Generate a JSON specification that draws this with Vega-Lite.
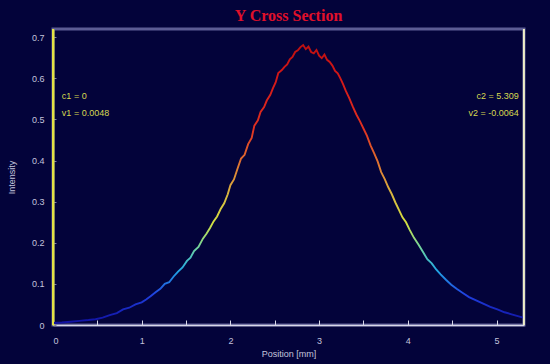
{
  "$schema": "https://vega.github.io/schema/vega-lite/v6.json",
  "autosize": "none",
  "width": 471,
  "height": 296,
  "padding": {"left": 53, "top": 29, "right": 26, "bottom": 39},
  "background": "#03033a",
  "title": {
    "text": "Y Cross Section",
    "font": "Liberation Serif",
    "fontSize": 16,
    "fontWeight": "bold",
    "color": "#e0102a",
    "anchor": "middle",
    "offset": 4
  },
  "config": {
    "view": {"stroke": "#5c5c94", "strokeWidth": 3},
    "axis": {
      "labelFont": "Liberation Sans",
      "labelFontSize": 9,
      "labelColor": "#c4c4dc",
      "titleFont": "Liberation Sans",
      "titleFontSize": 9,
      "titleFontWeight": "normal",
      "titleColor": "#c4c4dc",
      "grid": false
    }
  },
  "datasets": {
    "curve": [
      {"position": 0.00, "intensity": 0.005},
      {"position": 0.10, "intensity": 0.006},
      {"position": 0.20, "intensity": 0.008},
      {"position": 0.30, "intensity": 0.010},
      {"position": 0.40, "intensity": 0.012},
      {"position": 0.48, "intensity": 0.014},
      {"position": 0.56, "intensity": 0.018},
      {"position": 0.64, "intensity": 0.024},
      {"position": 0.72, "intensity": 0.029},
      {"position": 0.79, "intensity": 0.038},
      {"position": 0.86, "intensity": 0.042},
      {"position": 0.93, "intensity": 0.050},
      {"position": 1.00, "intensity": 0.055},
      {"position": 1.05, "intensity": 0.062},
      {"position": 1.10, "intensity": 0.070},
      {"position": 1.16, "intensity": 0.080},
      {"position": 1.21, "intensity": 0.088},
      {"position": 1.26, "intensity": 0.100},
      {"position": 1.31, "intensity": 0.104},
      {"position": 1.36, "intensity": 0.118},
      {"position": 1.41, "intensity": 0.130},
      {"position": 1.46, "intensity": 0.140},
      {"position": 1.51, "intensity": 0.156},
      {"position": 1.55, "intensity": 0.164},
      {"position": 1.59, "intensity": 0.180},
      {"position": 1.64, "intensity": 0.190},
      {"position": 1.69, "intensity": 0.210},
      {"position": 1.73, "intensity": 0.222},
      {"position": 1.77, "intensity": 0.236},
      {"position": 1.81, "intensity": 0.252},
      {"position": 1.85, "intensity": 0.264},
      {"position": 1.89, "intensity": 0.282},
      {"position": 1.93, "intensity": 0.296},
      {"position": 1.97, "intensity": 0.318},
      {"position": 2.00, "intensity": 0.340},
      {"position": 2.04, "intensity": 0.354},
      {"position": 2.08, "intensity": 0.380},
      {"position": 2.12, "intensity": 0.405},
      {"position": 2.16, "intensity": 0.414},
      {"position": 2.20, "intensity": 0.440},
      {"position": 2.24, "intensity": 0.455},
      {"position": 2.27, "intensity": 0.485},
      {"position": 2.31, "intensity": 0.498},
      {"position": 2.34, "intensity": 0.518},
      {"position": 2.38, "intensity": 0.530},
      {"position": 2.41, "intensity": 0.546},
      {"position": 2.45, "intensity": 0.560},
      {"position": 2.48, "intensity": 0.576},
      {"position": 2.51, "intensity": 0.590},
      {"position": 2.54, "intensity": 0.613},
      {"position": 2.58, "intensity": 0.620},
      {"position": 2.61, "intensity": 0.628},
      {"position": 2.64, "intensity": 0.634},
      {"position": 2.67, "intensity": 0.646},
      {"position": 2.70, "intensity": 0.652},
      {"position": 2.73, "intensity": 0.664},
      {"position": 2.76, "intensity": 0.668},
      {"position": 2.79, "intensity": 0.676},
      {"position": 2.82, "intensity": 0.681},
      {"position": 2.85, "intensity": 0.671},
      {"position": 2.88, "intensity": 0.677},
      {"position": 2.91, "intensity": 0.664},
      {"position": 2.94, "intensity": 0.661},
      {"position": 2.97, "intensity": 0.669},
      {"position": 3.00, "intensity": 0.655},
      {"position": 3.03, "intensity": 0.649},
      {"position": 3.06, "intensity": 0.658},
      {"position": 3.09, "intensity": 0.645},
      {"position": 3.12, "intensity": 0.640},
      {"position": 3.15, "intensity": 0.631},
      {"position": 3.18, "intensity": 0.618},
      {"position": 3.21, "intensity": 0.612},
      {"position": 3.24, "intensity": 0.600},
      {"position": 3.27, "intensity": 0.586},
      {"position": 3.30, "intensity": 0.570},
      {"position": 3.34, "intensity": 0.552},
      {"position": 3.38, "intensity": 0.531},
      {"position": 3.42, "intensity": 0.512},
      {"position": 3.46, "intensity": 0.496},
      {"position": 3.50, "intensity": 0.478},
      {"position": 3.54, "intensity": 0.460},
      {"position": 3.58, "intensity": 0.437},
      {"position": 3.62, "intensity": 0.418},
      {"position": 3.66, "intensity": 0.398},
      {"position": 3.70, "intensity": 0.372},
      {"position": 3.74, "intensity": 0.355},
      {"position": 3.78, "intensity": 0.335},
      {"position": 3.82, "intensity": 0.318},
      {"position": 3.86, "intensity": 0.298},
      {"position": 3.90, "intensity": 0.280},
      {"position": 3.94, "intensity": 0.262},
      {"position": 3.98, "intensity": 0.250},
      {"position": 4.02, "intensity": 0.232},
      {"position": 4.07, "intensity": 0.212},
      {"position": 4.12, "intensity": 0.196},
      {"position": 4.17, "intensity": 0.178},
      {"position": 4.22, "intensity": 0.160},
      {"position": 4.27, "intensity": 0.150},
      {"position": 4.32, "intensity": 0.135},
      {"position": 4.37, "intensity": 0.123},
      {"position": 4.43, "intensity": 0.110},
      {"position": 4.49, "intensity": 0.098},
      {"position": 4.55, "intensity": 0.088},
      {"position": 4.62, "intensity": 0.078},
      {"position": 4.69, "intensity": 0.068},
      {"position": 4.77, "intensity": 0.060},
      {"position": 4.85, "intensity": 0.052},
      {"position": 4.93, "intensity": 0.044},
      {"position": 5.01, "intensity": 0.038},
      {"position": 5.09, "intensity": 0.031},
      {"position": 5.17, "intensity": 0.026},
      {"position": 5.25, "intensity": 0.021},
      {"position": 5.30, "intensity": 0.018}
    ],
    "cursors": [
      {"cursor": "c1", "position": 0},
      {"cursor": "c2", "position": 5.309}
    ],
    "notes": [
      {"label": "c1 = 0", "position": 0.1, "intensity": 0.557, "side": "left"},
      {"label": "v1 = 0.0048", "position": 0.1, "intensity": 0.516, "side": "left"},
      {"label": "c2 = 5.309", "position": 5.25, "intensity": 0.557, "side": "right"},
      {"label": "v2 = -0.0064", "position": 5.25, "intensity": 0.516, "side": "right"}
    ]
  },
  "layer": [
    {
      "data": {"name": "curve"},
      "mark": {
        "type": "line",
        "strokeWidth": 1.9,
        "stroke": {
          "gradient": "linear",
          "x1": 0, "y1": 1, "x2": 0, "y2": 0,
          "stops": [
            {"offset": 0, "color": "#1010a0"},
            {"offset": 0.1, "color": "#2040e0"},
            {"offset": 0.19, "color": "#22a8e4"},
            {"offset": 0.27, "color": "#70d4a0"},
            {"offset": 0.36, "color": "#d4e040"},
            {"offset": 0.46, "color": "#d8b840"},
            {"offset": 0.58, "color": "#e07030"},
            {"offset": 0.7, "color": "#e03020"},
            {"offset": 0.88, "color": "#d41818"},
            {"offset": 1, "color": "#c01010"}
          ]
        }
      },
      "encoding": {
        "x": {
          "field": "position",
          "type": "quantitative",
          "scale": {"domain": [0, 5.31], "nice": false, "zero": false},
          "axis": {
            "title": "Position [mm]",
            "values": [0, 0.5, 1, 1.5, 2, 2.5, 3, 3.5, 4, 4.5, 5],
            "labelExpr": "datum.value % 1 == 0 ? format(datum.value, 'd') : ''",
            "domainColor": "#d8d8e8",
            "domainWidth": 1.5,
            "tickColor": "#d8d8e8",
            "tickSize": -5,
            "labelPadding": 16,
            "titlePadding": 4
          }
        },
        "y": {
          "field": "intensity",
          "type": "quantitative",
          "scale": {"domain": [0, 0.72], "nice": false},
          "axis": {
            "title": "Intensity",
            "values": [0, 0.1, 0.2, 0.3, 0.4, 0.5, 0.6, 0.7],
            "labelExpr": "datum.value == 0 ? '0' : format(datum.value, '.1f')",
            "domainColor": "#e4e444",
            "domainWidth": 2,
            "tickColor": "#8080a8",
            "tickSize": -3,
            "labelPadding": 12,
            "titlePadding": 15
          }
        }
      }
    },
    {
      "data": {"name": "cursors"},
      "mark": {"type": "rule", "strokeWidth": 2},
      "encoding": {
        "x": {"field": "position", "type": "quantitative"},
        "color": {
          "field": "cursor",
          "type": "nominal",
          "scale": {"domain": ["c1", "c2"], "range": ["#e4e444", "#f0f0c8"]},
          "legend": null
        }
      }
    },
    {
      "data": {"name": "notes"},
      "transform": [{"filter": "datum.side == 'left'"}],
      "mark": {"type": "text", "align": "left", "baseline": "middle", "font": "Liberation Sans", "fontSize": 9, "color": "#d8d850"},
      "encoding": {
        "x": {"field": "position", "type": "quantitative"},
        "y": {"field": "intensity", "type": "quantitative"},
        "text": {"field": "label"}
      }
    },
    {
      "data": {"name": "notes"},
      "transform": [{"filter": "datum.side == 'right'"}],
      "mark": {"type": "text", "align": "right", "baseline": "middle", "font": "Liberation Sans", "fontSize": 9, "color": "#d8d850"},
      "encoding": {
        "x": {"field": "position", "type": "quantitative"},
        "y": {"field": "intensity", "type": "quantitative"},
        "text": {"field": "label"}
      }
    }
  ]
}
